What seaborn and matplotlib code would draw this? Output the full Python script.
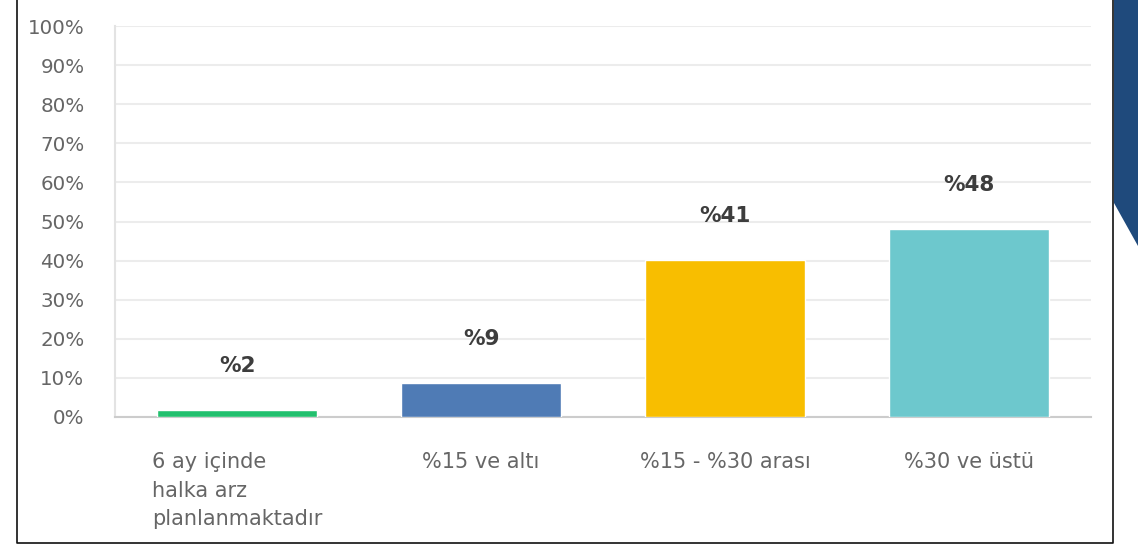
import matplotlib
matplotlib.use('Agg')
import matplotlib.pyplot as plt
import seaborn as sns
import pandas as pd
from matplotlib.lines import Line2D
from matplotlib.patches import Polygon
from matplotlib.ticker import FuncFormatter

# data
categories = ['6 ay içinde\nhalka arz\nplanlanmaktadır', '%15 ve altı', '%15 - %30 arası', '%30 ve üstü']
values = [1.9, 8.7, 40.2, 48.1]
value_labels = ['%2', '%9', '%41', '%48']
colors = ['#22c06e', '#4f7bb5', '#f8be00', '#6dc8cd']

sns.set_style('white')
plt.rcParams['font.family'] = ['DejaVu Sans']

df = pd.DataFrame({'cat': categories, 'val': values})

fig = plt.figure(figsize=(11.38, 5.47), dpi=100)
ax = fig.add_axes([115/1138, 1 - 417/547, (1091 - 115)/1138, (417 - 26)/547])

sns.barplot(data=df, x='cat', y='val', hue='cat', palette=colors, width=0.656,
            legend=False, ax=ax, saturation=1, zorder=3)

ax.set_ylim(0, 100)
ax.set_yticks(range(0, 101, 10))
ax.yaxis.set_major_formatter(FuncFormatter(lambda v, p: f'{int(v)}%'))
ax.grid(axis='y', color='#ececec', linewidth=1.5, zorder=0)
ax.set_axisbelow(True)
ax.set_xlabel('')
ax.set_ylabel('')
for s in ['top', 'right']:
    ax.spines[s].set_visible(False)
ax.spines['left'].set_color('#e3e3e3')
ax.spines['left'].set_linewidth(1.5)
ax.spines['bottom'].set_color('#cccccc')
ax.spines['bottom'].set_linewidth(1.5)
ax.tick_params(axis='y', length=0, pad=22, labelsize=14.3, labelcolor='#666666')
ax.tick_params(axis='x', length=0, pad=25, labelsize=15, labelcolor='#666666')
for t in ax.get_xticklabels():
    t.set_va('top')
    t.set_multialignment('left')
    t.set_linespacing(1.55)

# value labels above bars
for i, (v, lab) in enumerate(zip(values, value_labels)):
    ax.annotate(lab, (i, v), xytext=(0, 44), textcoords='offset pixels',
                ha='center', va='center', fontsize=15.5, fontweight='bold', color='#3d3d3d')

# slide frame and corner decoration
fig.add_artist(Line2D([17/1138, 17/1138, 1113/1138, 1113/1138],
                      [1, 1 - 543/547, 1 - 543/547, 1], transform=fig.transFigure,
                      color='#111111', linewidth=1.2))
fig.add_artist(Polygon([(1114/1138, 1), (1, 1), (1, 1 - 246/547), (1114/1138, 1 - 203/547)],
                       closed=True, transform=fig.transFigure, color='#1f4a7c', linewidth=0))

fig.savefig('out.png', dpi=100)
